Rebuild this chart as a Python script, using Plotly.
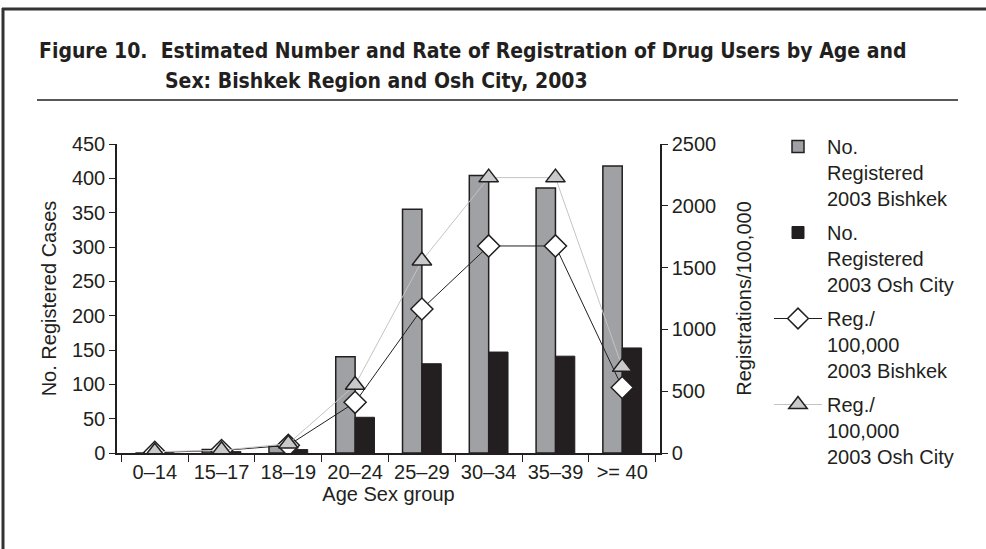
import plotly.graph_objects as go

categories = ["0–14", "15–17", "18–19", "20–24", "25–29", "30–34", "35–39", ">= 40"]
bishkek_count = [0, 5, 10, 140, 355, 404, 386, 418]
osh_count = [0, 2, 5, 52, 130, 147, 141, 153]
bishkek_rate = [5, 20, 62, 410, 1165, 1675, 1675, 530]
osh_rate = [10, 22, 75, 550, 1555, 2228, 2228, 695]

left_ticks = list(range(0, 451, 50))
right_ticks = list(range(0, 2501, 500))

# layout geometry (pixels)
W, H = 986, 549
L, R, T, B = 117, 326, 144, 96
PW, PH = W - L - R, H - T - B

def px(x):
    return (x - L) / PW

def py(y):
    return (H - B - y) / PH

FONT = "Liberation Sans, Arial, sans-serif"
TFONT = "DejaVu Sans Condensed, DejaVu Sans, sans-serif"
DARK = "#231f20"

fig = go.Figure()
fig.add_trace(go.Bar(
    x=categories, y=bishkek_count, name="No.<br>Registered<br>2003 Bishkek",
    marker=dict(color="#a0a1a5", line=dict(color=DARK, width=1.5)),
    legendgroup="a",
))
fig.add_trace(go.Bar(
    x=categories, y=osh_count, name="No.<br>Registered<br>2003 Osh City",
    marker=dict(color=DARK, line=dict(color=DARK, width=1)),
    legendgroup="b",
))
fig.add_trace(go.Scatter(
    x=categories, y=bishkek_rate, yaxis="y2", mode="lines+markers",
    name="Reg./<br>100,000<br>2003 Bishkek",
    line=dict(color=DARK, width=1),
    marker=dict(symbol="diamond", size=17, color="white", line=dict(color=DARK, width=1.5)),
    legendgroup="c",
))
fig.add_trace(go.Scatter(
    x=categories, y=osh_rate, yaxis="y2", mode="lines+markers",
    name="Reg./<br>100,000<br>2003 Osh City",
    line=dict(color="#c4c4c4", width=1),
    marker=dict(symbol="triangle-up", size=17, color="#c8c9cb", line=dict(color=DARK, width=1.5)),
    legendgroup="d",
))

fig.update_layout(
    width=W, height=H,
    margin=dict(l=L, r=R, t=T, b=B),
    paper_bgcolor="white", plot_bgcolor="white",
    font=dict(family=FONT, size=20, color=DARK),
    barmode="group", bargap=0.42, bargroupgap=0,
    showlegend=True,
    legend=dict(
        x=px(769), xanchor="left", y=py(127), yanchor="top",
        font=dict(family=FONT, size=20, color=DARK),
        itemwidth=48, tracegroupgap=5, traceorder="grouped",
        valign="top", maxheight=440,
        bgcolor="rgba(0,0,0,0)",
    ),
    xaxis=dict(
        type="category", showgrid=False, showline=True, linecolor=DARK, linewidth=1.5,
        ticks="outside", tickson="boundaries", ticklen=7, tickcolor=DARK,
        tickfont=dict(size=20),
        title=dict(text="Age Sex group", font=dict(size=20), standoff=4),
    ),
    yaxis=dict(
        range=[0, 450], tickvals=left_ticks, showgrid=False, zeroline=False,
        showline=True, linecolor=DARK, linewidth=1.5,
        ticks="outside", ticklen=6, tickcolor=DARK,
        title=dict(text="No. Registered Cases", font=dict(size=20), standoff=10),
    ),
    yaxis2=dict(
        range=[0, 2500], tickvals=right_ticks, overlaying="y", side="right",
        showgrid=False, zeroline=False,
        showline=True, linecolor=DARK, linewidth=1.5,
        ticks="outside", ticklen=6, tickcolor=DARK,
        title=dict(text="Registrations/100,000", font=dict(size=20), standoff=22),
    ),
    annotations=[
        dict(text="<b>Figure 10.  Estimated Number and Rate of Registration of Drug Users by Age and</b>",
             xref="paper", yref="paper", x=px(37), y=py(51), xanchor="left", yanchor="middle",
             showarrow=False, font=dict(family=TFONT, size=21, color=DARK)),
        dict(text="<b>Sex: Bishkek Region and Osh City, 2003</b>",
             xref="paper", yref="paper", x=px(163), y=py(81), xanchor="left", yanchor="middle",
             showarrow=False, font=dict(family=TFONT, size=21, color=DARK)),
    ],
    shapes=[
        dict(type="line", xref="paper", yref="paper", x0=px(37), x1=px(958), y0=py(100), y1=py(100),
             line=dict(color=DARK, width=1.5)),
        dict(type="line", xref="paper", yref="paper", x0=px(2), x1=px(990), y0=py(9), y1=py(9),
             line=dict(color="#333333", width=3)),
        dict(type="line", xref="paper", yref="paper", x0=px(3), x1=px(3), y0=py(8), y1=py(560),
             line=dict(color="#333333", width=3)),
    ],
)

fig.write_html(
    "out.html",
    config={"displayModeBar": False},
    post_script="document.body.style.margin='0';document.body.style.overflow='hidden';",
)
